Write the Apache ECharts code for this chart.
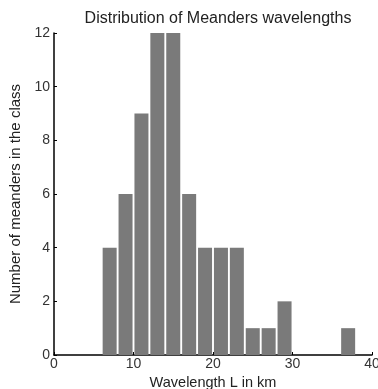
<!DOCTYPE html>
<html>
<head>
<meta charset="utf-8">
<script src="https://cdn.jsdelivr.net/npm/echarts@6/dist/echarts.min.js"></script>
<style>html,body{margin:0;padding:0;background:#fff;}#c{width:378px;height:389px;}</style>
</head>
<body>
<div id="c"></div>
<script>
const binCenters = [7, 9, 11, 13, 15, 17, 19, 21, 23, 25, 27, 29, 31, 33, 35, 37];
const counts     = [4, 6, 9, 12, 12, 6, 4, 4, 4, 1, 1, 2, 0, 0, 0, 1];
const xTicks = [0, 10, 20, 30, 40];
const yTicks = [0, 2, 4, 6, 8, 10, 12];
const titleText = 'Distribution of Meanders wavelengths';
const xName = 'Wavelength L in km';
const yName = 'Number of meanders in the class';

const chart = echarts.init(document.getElementById('c'));
const font = 'Liberation Sans, Arial, sans-serif';
chart.setOption({
  animation: false,
  backgroundColor: '#fff',
  title: {
    text: titleText, left: 213, top: 6, textAlign: 'center',
    textStyle: {fontFamily: font, fontSize: 16, fontWeight: 'normal', color: '#222'}
  },
  grid: {left: 54, right: 6, top: 33, bottom: 34, containLabel: false, outerBoundsMode: 'none'},
  xAxis: {
    type: 'value', min: xTicks[0], max: xTicks[xTicks.length - 1], interval: 10,
    name: xName, nameLocation: 'middle', nameGap: 20,
    nameTextStyle: {fontFamily: font, fontSize: 14.5, color: '#222'},
    axisLine: {lineStyle: {color: '#000', width: 1.5}},
    axisTick: {show: true, inside: true, length: 3, lineStyle: {color: '#000'}},
    axisLabel: {fontFamily: font, fontSize: 14, color: '#333', margin: 2},
    splitLine: {show: false}
  },
  yAxis: {
    type: 'value', min: yTicks[0], max: yTicks[yTicks.length - 1], interval: 2,
    name: yName, nameLocation: 'middle', nameGap: 30,
    nameTextStyle: {fontFamily: font, fontSize: 15, color: '#222'},
    axisLine: {show: true, lineStyle: {color: '#000', width: 1.5}},
    axisTick: {show: true, inside: true, length: 3, lineStyle: {color: '#000'}},
    axisLabel: {fontFamily: font, fontSize: 14, color: '#333', margin: 4},
    splitLine: {show: false}
  },
  series: [{
    type: 'bar',
    data: binCenters.map((c, i) => [c, counts[i]]),
    barWidth: 14,
    itemStyle: {color: '#7a7a7a'}
  }]
});
</script>
</body>
</html>
